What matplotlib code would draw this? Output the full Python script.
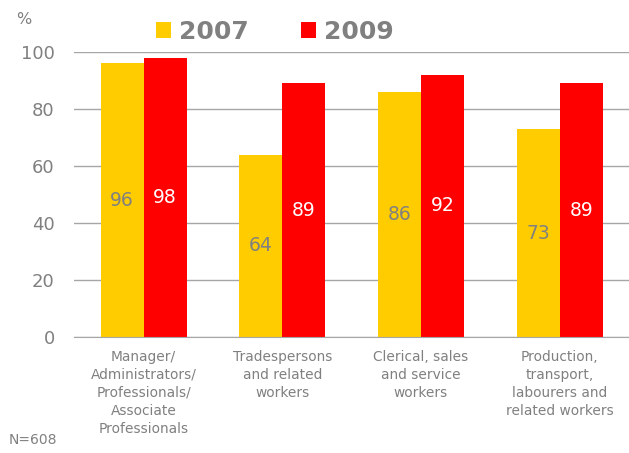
import matplotlib.pyplot as plt
import numpy as np

categories = ["Manager/\nAdministrators/\nProfessionals/\nAssociate\nProfessionals",
              "Tradespersons\nand related\nworkers",
              "Clerical, sales\nand service\nworkers",
              "Production,\ntransport,\nlabourers and\nrelated workers"]
y2007 = [96, 64, 86, 73]
y2009 = [98, 89, 92, 89]

gray = '#808080'
fig = plt.figure(figsize=(6.29, 4.53), dpi=100)
ax = fig.add_axes([0.118, 0.256, 0.882, 0.629])

x = np.arange(len(categories))
w = 0.31
b1 = ax.bar(x - w/2, y2007, w, color='#FFCC00', label='2007', zorder=2)
b2 = ax.bar(x + w/2, y2009, w, color='#FF0000', label='2009', zorder=2)

for r, v in zip(b1, y2007):
    ax.text(r.get_x() + r.get_width()/2, v/2, str(v), ha='center', va='center',
            color=gray, fontsize=13.5)
for r, v in zip(b2, y2009):
    ax.text(r.get_x() + r.get_width()/2, v/2, str(v), ha='center', va='center',
            color='white', fontsize=13.5)

ax.set_xlim(-0.5, 3.5)
ax.set_ylim(0, 100)
ax.set_yticks([0, 20, 40, 60, 80, 100])
ax.yaxis.grid(True, color='#A6A6A6', linewidth=1, zorder=0)
ax.set_axisbelow(True)
for s in ['top', 'right', 'left']:
    ax.spines[s].set_visible(False)
ax.spines['bottom'].set_color('#A6A6A6')
ax.tick_params(axis='y', length=0, labelsize=13, labelcolor=gray, pad=14)
ax.tick_params(axis='x', length=0, labelsize=9.9, labelcolor=gray, pad=9)
ax.set_xticks(x)
ax.set_xticklabels(categories, linespacing=1.38)

fig.text(0.038, 0.956, '%', color=gray, fontsize=11.5, ha='center', va='center')
fig.text(0.013, 0.028, 'N=608', color=gray, fontsize=10, va='center')

leg = fig.legend(loc='center', bbox_to_anchor=(0.437, 0.93), ncol=2, frameon=False,
                 handlelength=0.6, handleheight=0.6, handletextpad=0.32, columnspacing=2.1,
                 prop={'size': 18, 'weight': 'bold'})
for t in leg.get_texts():
    t.set_color(gray)

plt.savefig('out.png', dpi=100)
